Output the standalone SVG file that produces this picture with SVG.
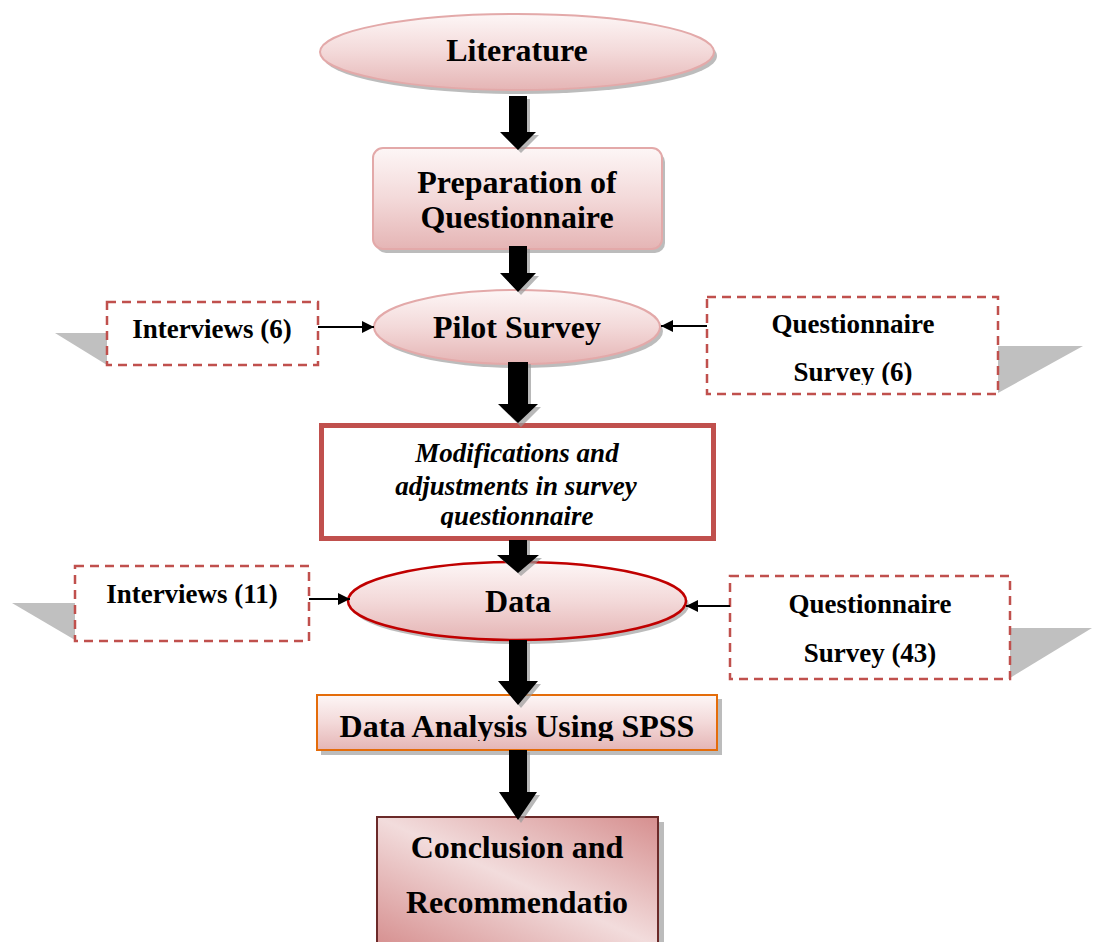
<svg xmlns="http://www.w3.org/2000/svg" width="1093" height="942" viewBox="0 0 1093 942">
<style>
.big{font-family:'Times New Roman','Liberation Serif',Tinos,serif;font-weight:700;font-size:32px;fill:#000;text-anchor:middle}
.side{font-family:'Times New Roman','Liberation Serif',Tinos,serif;font-weight:700;font-size:27px;fill:#000;text-anchor:middle}
.ital{font-family:'Times New Roman','Liberation Serif',Tinos,serif;font-weight:700;font-style:italic;font-size:27px;fill:#000;text-anchor:middle}
.dash{fill:#fff;stroke:#c0504d;stroke-width:2.5;stroke-dasharray:9,6}
.tri{fill:#c0c0c0}
.shadow{fill:#a6a6a6;opacity:0.75}
.blk{fill:#000}
.ash{fill:#9a9a9a;opacity:0.7}
.thin{stroke:#000;stroke-width:2;fill:none;marker-end:url(#ah)}
</style>
<defs>
<linearGradient id="pink" x1="0" y1="0" x2="0" y2="1">
<stop offset="0" stop-color="#fdf6f6"/>
<stop offset="0.5" stop-color="#f3d9d9"/>
<stop offset="1" stop-color="#e5b5b5"/>
</linearGradient>
<linearGradient id="conc" x1="1" y1="0" x2="0" y2="1">
<stop offset="0" stop-color="#d68f8f"/>
<stop offset="0.5" stop-color="#f2dcdc"/>
<stop offset="1" stop-color="#d68f8f"/>
</linearGradient>
<marker id="ah" viewBox="0 0 10 10" refX="10" refY="5" markerWidth="6.5" markerHeight="6" orient="auto">
<path d="M0,0 L10,5 L0,10 Z" fill="#000"/>
</marker>
<clipPath id="clipMod"><rect x="320" y="424" width="396" height="104"/></clipPath>
<clipPath id="clipSpss"><rect x="317" y="695" width="401" height="46"/></clipPath>
<clipPath id="clipQ6"><rect x="707" y="297" width="292" height="88"/></clipPath>
</defs>

<g id="literature">
<ellipse class="shadow" cx="520" cy="56" rx="197" ry="38"/>
<ellipse cx="517" cy="52" rx="197" ry="38" fill="url(#pink)" stroke="#e3a9a9" stroke-width="2"/>
<text class="big" x="517" y="61" font-size="31">Literature</text>
</g>

<g id="preparation">
<rect class="shadow" x="376" y="152" width="289" height="101" rx="10"/>
<rect x="373" y="148" width="289" height="101" rx="10" fill="url(#pink)" stroke="#e3a9a9" stroke-width="2"/>
<text class="big" x="517" y="193">Preparation of</text>
<text class="big" x="517" y="228">Questionnaire</text>
</g>

<g id="pilot">
<ellipse class="shadow" cx="520" cy="331" rx="143" ry="37"/>
<ellipse cx="517" cy="327" rx="143" ry="37" fill="url(#pink)" stroke="#e3a9a9" stroke-width="2"/>
<text class="big" x="517" y="338">Pilot Survey</text>
</g>

<g id="interviews6">
<polygon class="tri" points="55,333 107,333 107,365"/>
<rect class="dash" x="107" y="302" width="211" height="63"/>
<text class="side" x="212" y="338">Interviews (6)</text>
</g>

<g id="questionnaire6">
<polygon class="tri" points="998,346 1083,346 998,393"/>
<rect class="dash" x="707" y="297" width="291" height="97"/>
<g clip-path="url(#clipQ6)">
<text class="side" x="853" y="333">Questionnaire</text>
<text class="side" x="853" y="381">Survey (6)</text>
</g>
</g>

<g id="modifications">
<rect x="321.5" y="425.5" width="392" height="113" fill="#fff" stroke="#c0504d" stroke-width="5"/>
<g clip-path="url(#clipMod)">
<text class="ital" x="517" y="462">Modifications and</text>
<text class="ital" x="516" y="495">adjustments in survey</text>
<text class="ital" x="517" y="525">questionnaire</text>
</g>
</g>

<g id="data">
<ellipse class="shadow" cx="520" cy="605" rx="169" ry="39"/>
<ellipse cx="517" cy="601" rx="169" ry="39" fill="url(#pink)" stroke="#c00000" stroke-width="2.5"/>
<text class="big" x="518" y="612">Data</text>
</g>

<g id="interviews11">
<polygon class="tri" points="12,603 75,603 75,640"/>
<rect class="dash" x="75" y="566" width="234" height="75"/>
<text class="side" x="192" y="603">Interviews (11)</text>
</g>

<g id="questionnaire43">
<polygon class="tri" points="1010,628 1092,628 1010,678"/>
<rect class="dash" x="730" y="576" width="280" height="103"/>
<text class="side" x="870" y="613">Questionnaire</text>
<text class="side" x="870" y="662">Survey (43)</text>
</g>

<g id="spss">
<rect class="shadow" x="321" y="699" width="401" height="56"/>
<rect x="317" y="695" width="400" height="55" fill="url(#pink)" stroke="#e46c0a" stroke-width="2"/>
<g clip-path="url(#clipSpss)">
<text class="big" x="517" y="737">Data Analysis Using SPSS</text>
</g>
</g>

<g id="conclusion">
<rect class="shadow" x="381" y="822" width="283" height="125"/>
<rect x="377" y="817" width="281" height="130" fill="url(#conc)" stroke="#6b2a29" stroke-width="2"/>
<text class="big" x="517" y="858">Conclusion and</text>
<text class="big" x="517" y="913">Recommendatio</text>
</g>

<g id="connectors">
<path class="ash" d="M512,99 H530 V135 H539 L521,153 L503,135 H512 Z"/>
<path class="blk" d="M509,96 H527 V132 H536 L518,150 L500,132 H509 Z"/>
<path class="ash" d="M512,249 H530 V276 H539 L521,295 L503,276 H512 Z"/>
<path class="blk" d="M509,246 H527 V273 H536 L518,292 L500,273 H509 Z"/>
<path class="ash" d="M511,364 H531 V407 H541 L521,427 L501,407 H511 Z"/>
<path class="blk" d="M508,362 H528 V404 H538 L518,423 L498,404 H508 Z"/>
<path class="ash" d="M512,540 H530 V558 H542 L521,576 L500,558 H512 Z"/>
<path class="blk" d="M509,540 H527 V555 H539 L518,573 L497,555 H509 Z"/>
<path class="ash" d="M512,643 H530 V684 H541 L521,708 L501,684 H512 Z"/>
<path class="blk" d="M509,640 H527 V681 H538 L518,705 L498,681 H509 Z"/>
<path class="ash" d="M512,752 H530 V795 H540 L521,823 L502,795 H512 Z"/>
<path class="blk" d="M509,750 H527 V792 H537 L518,820 L499,792 H509 Z"/>
<line class="thin" x1="318" y1="327" x2="374" y2="327"/>
<line class="thin" x1="707" y1="326" x2="661" y2="326"/>
<line class="thin" x1="309" y1="599" x2="350" y2="599"/>
<line class="thin" x1="730" y1="606" x2="686" y2="606"/>
</g>
</svg>
